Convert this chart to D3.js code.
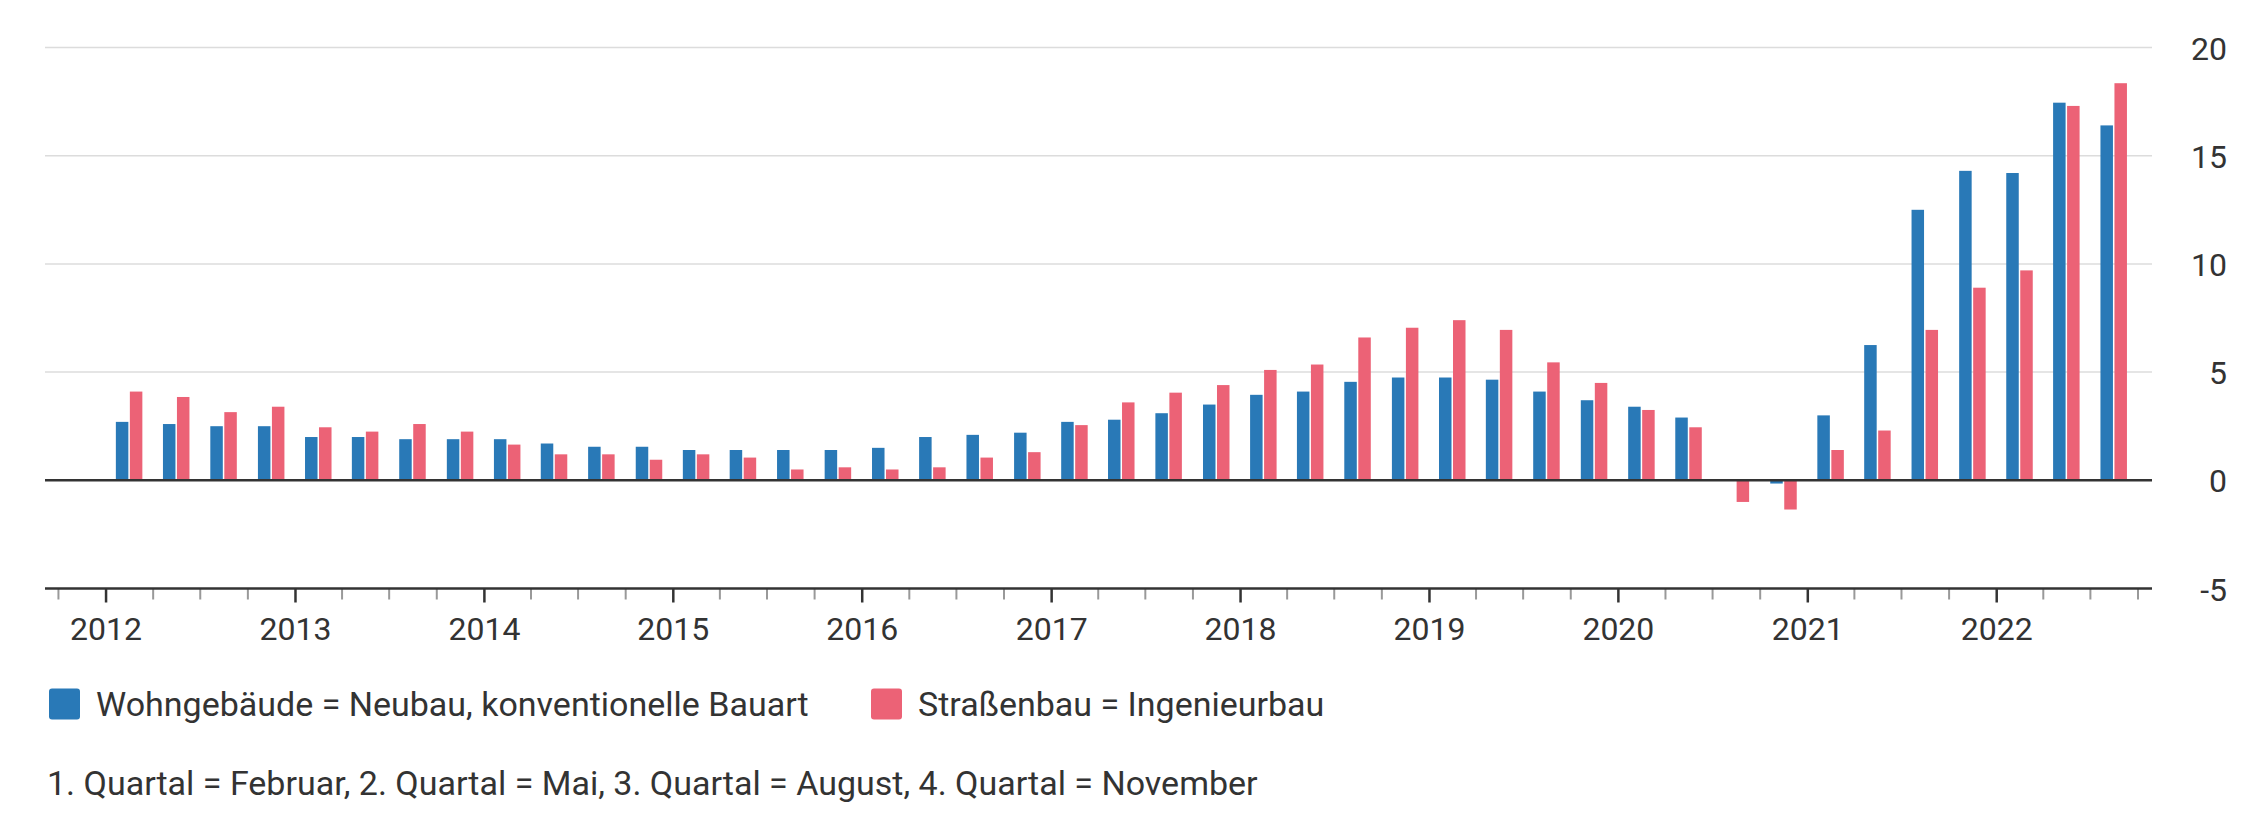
<!DOCTYPE html>
<html>
<head>
<meta charset="utf-8">
<script src="https://cdn.jsdelivr.net/npm/d3@7"></script>
<style>
  body { margin: 0; background: #fff; }
  text { fill: #333; }
</style>
</head>
<body>
<svg id="chart" width="2250" height="816"></svg>
<script>
// quarters (1. Quartal = Februar, 2. = Mai, 3. = August, 4. = November)
const quarters = [
  "2012-Q1", "2012-Q2", "2012-Q3", "2012-Q4",
  "2013-Q1", "2013-Q2", "2013-Q3", "2013-Q4",
  "2014-Q1", "2014-Q2", "2014-Q3", "2014-Q4",
  "2015-Q1", "2015-Q2", "2015-Q3", "2015-Q4",
  "2016-Q1", "2016-Q2", "2016-Q3", "2016-Q4",
  "2017-Q1", "2017-Q2", "2017-Q3", "2017-Q4",
  "2018-Q1", "2018-Q2", "2018-Q3", "2018-Q4",
  "2019-Q1", "2019-Q2", "2019-Q3", "2019-Q4",
  "2020-Q1", "2020-Q2", "2020-Q3", "2020-Q4",
  "2021-Q1", "2021-Q2", "2021-Q3", "2021-Q4",
  "2022-Q1", "2022-Q2", "2022-Q3"
];

const wohngebaeude = [
  2.7, 2.6, 2.5, 2.5,
  2.0, 2.0, 1.9, 1.9,
  1.9, 1.7, 1.55, 1.55,
  1.4, 1.4, 1.4, 1.4,
  1.5, 2.0, 2.1, 2.2,
  2.7, 2.8, 3.1, 3.5,
  3.95, 4.1, 4.55, 4.75,
  4.75, 4.65, 4.1, 3.7,
  3.4, 2.9, 0, -0.15,
  3.0, 6.25, 12.5, 14.3,
  14.2, 17.45, 16.4
];

const strassenbau = [
  4.1, 3.85, 3.15, 3.4,
  2.45, 2.25, 2.6, 2.25,
  1.65, 1.2, 1.2, 0.95,
  1.2, 1.05, 0.5, 0.6,
  0.5, 0.6, 1.05, 1.3,
  2.55, 3.6, 4.05, 4.4,
  5.1, 5.35, 6.6, 7.05,
  7.4, 6.95, 5.45, 4.5,
  3.25, 2.45, -1.0, -1.35,
  1.4, 2.3, 6.95, 8.9,
  9.7, 17.3, 18.35
];

const yTicks = [-5, 0, 5, 10, 15, 20];
const years = [2012, 2013, 2014, 2015, 2016, 2017, 2018, 2019, 2020, 2021, 2022];

const series = [
  { name: "Wohngebäude = Neubau, konventionelle Bauart", values: wohngebaeude, color: "#2979b7" },
  { name: "Straßenbau = Ingenieurbau", values: strassenbau, color: "#ec6276" }
];
const footnote = "1. Quartal = Februar, 2. Quartal = Mai, 3. Quartal = August, 4. Quartal = November";

const margin = { top: 47.5, right: 98, bottom: 227.5, left: 45 };
const W = 2250, H = 816;

const parseQ = s => {
  const [yy, q] = s.split("-Q");
  return new Date(+yy, (+q - 1) * 3, 1);
};

const x = d3.scaleTime()
  .domain([new Date(2011, 8, 6), new Date(2022, 9, 29)])
  .range([margin.left, W - margin.right]);

const y = d3.scaleLinear()
  .domain([-5, 20])
  .range([H - margin.bottom, margin.top]);

const svg = d3.select("#chart");
const font = "Roboto, 'Open Sans', sans-serif";

// gridlines
svg.append("g")
  .selectAll("line")
  .data(yTicks.filter(d => d > 0))
  .enter().append("line")
  .attr("x1", margin.left)
  .attr("x2", W - margin.right)
  .attr("y1", d => y(d))
  .attr("y2", d => y(d))
  .attr("stroke", "#dcdcdc")
  .attr("stroke-width", 1.5);

// bars
const barW = 12.5, gap = 1.5;
const rows = quarters.map((q, i) => {
  const start = parseQ(q);
  const end = d3.timeMonth.offset(start, 3);
  return { q, center: (x(start) + x(end)) / 2, vals: series.map(s => s.values[i]) };
});

series.forEach((s, si) => {
  svg.append("g")
    .selectAll("rect")
    .data(rows)
    .enter().append("rect")
    .attr("x", d => si === 0 ? d.center - gap / 2 - barW : d.center + gap / 2)
    .attr("width", barW)
    .attr("y", d => y(Math.max(0, d.vals[si])))
    .attr("height", d => Math.abs(y(d.vals[si]) - y(0)))
    .attr("fill", s.color);
});

// zero line
svg.append("line")
  .attr("x1", margin.left)
  .attr("x2", W - margin.right)
  .attr("y1", y(0))
  .attr("y2", y(0))
  .attr("stroke", "#333")
  .attr("stroke-width", 2.5);

// x axis: minor quarter ticks + major year ticks
const axisY = y(-5);
const quarterTicks = d3.timeMonth.every(3).range(new Date(2011, 9, 1), new Date(2022, 10, 1))
  .filter(d => d.getMonth() !== 0);
const yearTicks = years.map(yy => new Date(yy, 0, 1));

const minor = svg.append("g")
  .attr("transform", `translate(0,${axisY})`)
  .call(d3.axisBottom(x).tickValues(quarterTicks).tickSize(11).tickFormat(""));
minor.select(".domain").remove();
minor.selectAll("line").attr("stroke", "#999").attr("stroke-width", 2);

const major = svg.append("g")
  .attr("transform", `translate(0,${axisY})`)
  .call(d3.axisBottom(x).tickValues(yearTicks).tickSize(14).tickPadding(15).tickFormat(d3.timeFormat("%Y")));
major.select(".domain").remove();
major.selectAll("line").attr("stroke", "#333").attr("stroke-width", 2.5);
major.selectAll("text")
  .style("font-family", font)
  .style("font-size", "32px")
  .attr("fill", "#333");

svg.append("line")
  .attr("x1", margin.left)
  .attr("x2", W - margin.right)
  .attr("y1", axisY)
  .attr("y2", axisY)
  .attr("stroke", "#333")
  .attr("stroke-width", 2.5);

// y axis labels on the right
const yAxis = svg.append("g")
  .attr("transform", `translate(2227,0)`)
  .call(d3.axisRight(y).tickValues(yTicks).tickSize(0).tickPadding(0).tickFormat(d => String(d)));
yAxis.select(".domain").remove();
yAxis.selectAll("text")
  .attr("text-anchor", "end")
  .attr("x", 0)
  .attr("dy", "0.36em")
  .style("font-family", font)
  .style("font-size", "32px")
  .attr("fill", "#333");

// legend
const legendX = [49, 871];
const lg = svg.append("g")
  .selectAll("g")
  .data(series)
  .enter().append("g")
  .attr("transform", (d, i) => `translate(${legendX[i]},704)`);

lg.append("rect")
  .attr("x", 0)
  .attr("y", -15.5)
  .attr("width", 31)
  .attr("height", 31)
  .attr("rx", 3)
  .attr("fill", d => d.color);

lg.append("text")
  .attr("x", 47)
  .attr("dy", "0.36em")
  .style("font-family", font)
  .style("font-size", "34px")
  .text(d => d.name);

svg.append("text")
  .attr("x", 47)
  .attr("y", 783)
  .attr("dy", "0.36em")
  .style("font-family", font)
  .style("font-size", "34px")
  .text(footnote);
</script>
</body>
</html>
